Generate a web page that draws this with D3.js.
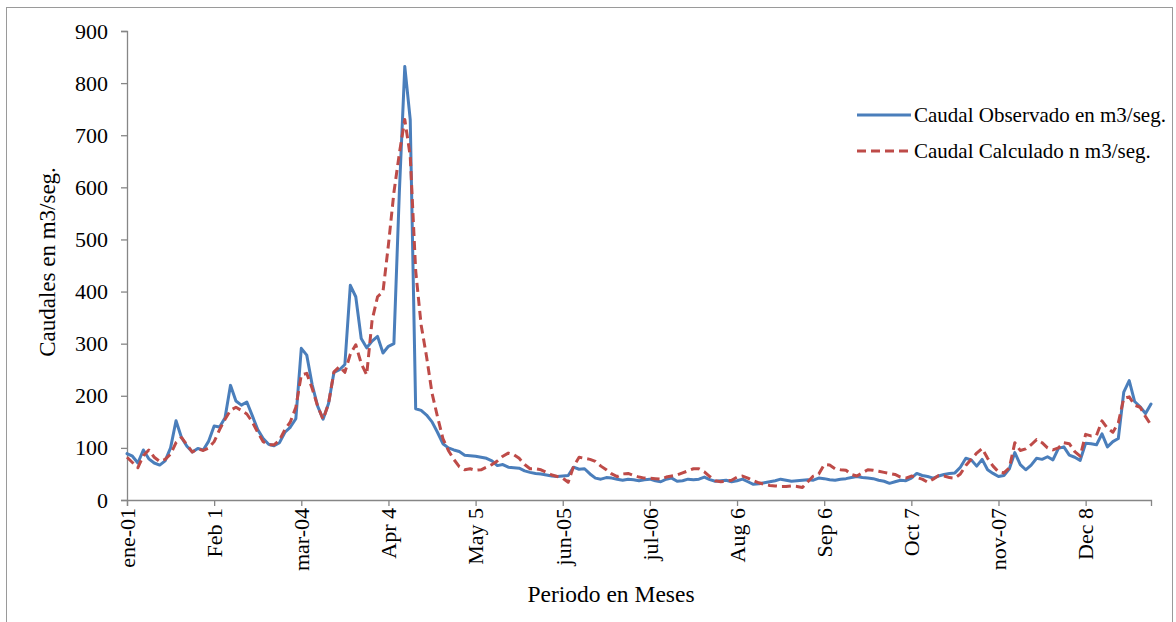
<!DOCTYPE html>
<html>
<head>
<meta charset="utf-8">
<script src="https://cdn.jsdelivr.net/npm/d3@7"></script>
<style>
  html, body { margin: 0; padding: 0; background: #fff; }
  svg { display: block; font-family: "Liberation Serif", "Times New Roman", serif; }
</style>
</head>
<body>
<svg id="chart" width="1176" height="622"></svg>
<script>
// ---- Data ----
const categories = ["ene-01", "Feb 1", "mar-04", "Apr 4", "May 5", "jun-05", "jul-06", "Aug 6", "Sep 6", "Oct 7", "nov-07", "Dec 8"];
const pointsPerLabel = 16;
const yTickValues = [0, 100, 200, 300, 400, 500, 600, 700, 800, 900];
const seriesNames = ["Caudal Observado en m3/seg.", "Caudal Calculado n m3/seg."];

const observed = [
  89, 84, 71, 96, 79, 71, 67, 75, 100, 152,
  120, 103, 92, 99, 96, 113, 142, 140, 158, 220,
  190, 182, 188, 162, 135, 118, 107, 104, 110, 130,
  140, 156, 291, 278, 221, 180, 155, 185, 245, 250,
  260, 412, 390, 310, 292, 305, 314, 282, 295, 300,
  590, 832, 730, 175, 172, 163, 150, 130, 108, 100,
  96, 93, 86, 85, 84, 82, 80, 75, 66, 68,
  63, 62, 61, 56, 53, 51, 50, 48, 46, 45,
  46, 47, 63, 59, 60, 50, 42, 40, 43, 42,
  40, 38, 40, 39, 37, 39, 40, 37, 35, 40,
  42, 36, 37, 40, 39, 40, 44, 39, 36, 37,
  38, 35, 37, 40, 35, 30, 31, 33, 35, 37,
  40, 38, 36, 37, 38, 39, 38, 42, 41, 39,
  38, 40, 41, 43, 45, 43, 42, 41, 38, 36,
  32, 35, 38, 37, 42, 51, 47, 45, 42, 46,
  49, 51, 52, 63, 80, 77, 65, 78, 58, 51,
  45, 47, 60, 91, 68, 58, 67, 80, 78, 83,
  77, 99, 102, 86, 82, 76, 109, 108, 106, 127,
  102, 112, 118, 207, 229, 189, 179, 166, 184
];

const calculated = [
  82, 72, 62, 85, 96, 82, 74, 78, 88, 110,
  120, 106, 92, 98, 95, 100, 112, 135, 155, 172,
  178, 172, 165, 150, 130, 112, 106, 106, 115, 135,
  150, 178, 240, 243, 214, 180, 155, 185, 246, 256,
  245, 280, 298, 262, 240, 345, 390, 400, 490, 590,
  665, 730, 660, 440, 336, 275, 205, 160, 118, 95,
  78, 64, 58, 60, 57, 58, 63, 68, 75, 84,
  90, 87, 80, 68, 60, 60, 58, 53, 48, 45,
  42, 34, 65, 82, 80, 78, 74, 65, 58, 50,
  45, 50, 51, 47, 44, 42, 42, 41, 40, 44,
  46, 48, 52, 56, 60, 60, 54, 45, 37, 35,
  36, 38, 44, 46, 42, 37, 33, 30, 28, 27,
  26, 26, 27, 26, 24, 35, 46, 50, 68, 67,
  60, 58, 57, 49, 46, 52, 58, 57, 55, 53,
  51, 49, 44, 42, 46, 43, 40, 34, 40, 47,
  46, 43, 42, 50, 66, 78, 90, 99, 80, 65,
  54, 52, 62, 110, 95, 98, 106, 116, 110, 100,
  96, 100, 110, 108, 93, 84, 126, 123, 124, 152,
  138, 130, 148, 195, 198, 182, 178, 160, 144
];

// ---- Layout ----
const svg = d3.select("#chart");
const W = 1176, H = 622;
const plot = { left: 127, right: 1151, top: 31, bottom: 500 };
const blue = "#4A7EBB", red = "#BE4B48", axisColor = "#868686";

svg.append("rect").attr("x", 0).attr("y", 0).attr("width", W).attr("height", H).attr("fill", "#fff");
svg.append("rect").attr("x", 6.5).attr("y", 7.5).attr("width", 1166).attr("height", 620)
  .attr("fill", "none").attr("stroke", "#9a9a9a").attr("stroke-width", 1);

const x = d3.scaleLinear().domain([0, observed.length - 1]).range([plot.left, plot.right]);
const y = d3.scaleLinear().domain([0, 900]).range([plot.bottom, plot.top]);

// Y axis
const yAxis = d3.axisLeft(y).tickValues(yTickValues).tickSize(6).tickPadding(13).tickFormat(d3.format("d"));
const gy = svg.append("g").attr("transform", `translate(${plot.left},0)`).call(yAxis);
gy.select(".domain").attr("stroke", axisColor).attr("stroke-width", 1.3);
gy.selectAll(".tick line").attr("stroke", axisColor).attr("stroke-width", 1.3);
gy.selectAll(".tick text").attr("fill", "#000").style("font-size", "22px")
  .style("font-family", "'Liberation Serif', 'Times New Roman', serif");

// X axis
const xTickIdx = categories.map((c, i) => i * pointsPerLabel);
const xAxis = d3.axisBottom(x).tickValues(xTickIdx).tickSize(6)
  .tickFormat(d => categories[d / pointsPerLabel]);
const gx = svg.append("g").attr("transform", `translate(0,${plot.bottom})`).call(xAxis);
gx.select(".domain").attr("stroke", axisColor).attr("stroke-width", 1.3);
gx.selectAll(".tick line").attr("stroke", axisColor).attr("stroke-width", 1.3);
gx.selectAll(".tick text")
  .attr("fill", "#000")
  .style("font-size", "22px")
  .style("font-family", "'Liberation Serif', 'Times New Roman', serif")
  .attr("transform", "rotate(-90)")
  .attr("text-anchor", "end")
  .attr("x", -8)
  .attr("y", 0)
  .attr("dy", "0.33em");

// Lines
const line = d3.line().x((d, i) => x(i)).y(d => y(d));
svg.append("path").datum(observed).attr("d", line)
  .attr("fill", "none").attr("stroke", blue).attr("stroke-width", 3)
  .attr("stroke-linejoin", "round").attr("stroke-linecap", "round");
svg.append("path").datum(calculated).attr("d", line)
  .attr("fill", "none").attr("stroke", red).attr("stroke-width", 3)
  .attr("stroke-dasharray", "9,5")
  .attr("stroke-linejoin", "round");

// Axis titles
svg.append("text").attr("x", 611).attr("y", 602).attr("text-anchor", "middle")
  .style("font-size", "23.5px").attr("fill", "#000").text("Periodo en Meses");
svg.append("text").attr("transform", "translate(55,262) rotate(-90)").attr("text-anchor", "middle")
  .style("font-size", "23px").attr("fill", "#000").text("Caudales en m3/seg.");

// Legend
const legend = svg.append("g");
const legendItems = [
  { name: seriesNames[0], color: blue, dash: null, y: 115 },
  { name: seriesNames[1], color: red, dash: "9,5", y: 151 }
];
legendItems.forEach(it => {
  legend.append("line").attr("x1", 857).attr("x2", 911).attr("y1", it.y).attr("y2", it.y)
    .attr("stroke", it.color).attr("stroke-width", 3)
    .attr("stroke-dasharray", it.dash);
  legend.append("text").attr("x", 914).attr("y", it.y).attr("dy", "0.33em")
    .style("font-size", "21px").attr("fill", "#000").text(it.name);
});
</script>
</body>
</html>
